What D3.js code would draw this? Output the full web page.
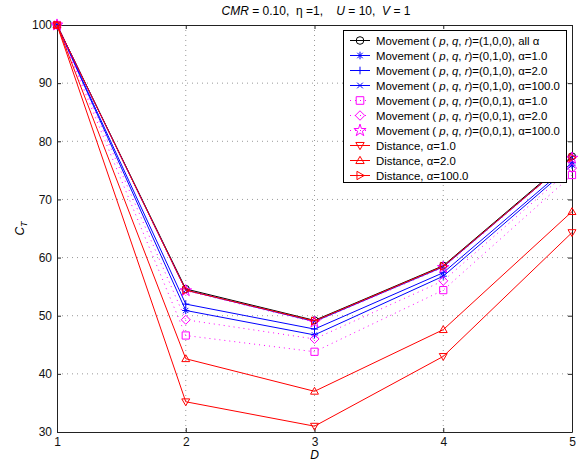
<!DOCTYPE html>
<html>
<head>
<meta charset="utf-8">
<script src="https://cdn.jsdelivr.net/npm/d3@7"></script>
<style>
  body { margin: 0; background: #fff; }
  text { font-family: "Liberation Sans", Arial, sans-serif; }
</style>
</head>
<body>
<div id="chart"></div>
<script>
// data
const dVals = [1, 2, 3, 4, 5];
const xTicks = [1, 2, 3, 4, 5];
const yTicks = [30, 40, 50, 60, 70, 80, 90, 100];

const movP = [100, 54.6, 49.2, 58.6, 77.4];
const movQ1 = [100, 50.9, 46.7, 56.8, 75.9];
const movQ2 = [100, 52.0, 47.7, 57.4, 76.3];
const movQ100 = [100, 54.4, 49.0, 58.4, 77.2];
const movR1 = [100, 46.6, 43.8, 54.4, 74.2];
const movR2 = [100, 49.3, 46.0, 56.0, 75.4];
const movR100 = [100, 54.3, 48.9, 58.3, 77.1];
const dist1 = [100, 35.2, 31.0, 43.0, 64.3];
const dist2 = [100, 42.6, 37.0, 47.6, 67.9];
const dist100 = [100, 54.4, 49.1, 58.5, 77.2];

const series = [
  {vals: movP, color: '#000', marker: 'circle', dash: null, pre: 'Movement', tuple: '(1,0,0), all α'},
  {vals: movQ1, color: '#0000ff', marker: 'asterisk', dash: null, pre: 'Movement', tuple: '(0,1,0), α=1.0'},
  {vals: movQ2, color: '#0000ff', marker: 'plus', dash: null, pre: 'Movement', tuple: '(0,1,0), α=2.0'},
  {vals: movQ100, color: '#0000ff', marker: 'cross', dash: null, pre: 'Movement', tuple: '(0,1,0), α=100.0'},
  {vals: movR1, color: '#ff00ff', marker: 'square', dash: '1,4', pre: 'Movement', tuple: '(0,0,1), α=1.0'},
  {vals: movR2, color: '#ff00ff', marker: 'diamond', dash: '1,4', pre: 'Movement', tuple: '(0,0,1), α=2.0'},
  {vals: movR100, color: '#ff00ff', marker: 'star', dash: '1,4', pre: 'Movement', tuple: '(0,0,1), α=100.0'},
  {vals: dist1, color: '#ff0000', marker: 'triDown', dash: null, pre: 'Distance, α=1.0'},
  {vals: dist2, color: '#ff0000', marker: 'triUp', dash: null, pre: 'Distance, α=2.0'},
  {vals: dist100, color: '#ff0000', marker: 'triRight', dash: null, pre: 'Distance, α=100.0'}
];

const w = 584, h = 462;
const padL = 57, padR = 572, padT = 25, padB = 432;

const xScale = d3.scaleLinear().domain([1, 5]).range([padL, padR]);
const yScale = d3.scaleLinear().domain([30, 100]).range([padB, padT]);

const svg = d3.select('#chart').append('svg')
  .attr('width', w).attr('height', h);

// marker paths
function markerPath(type, s) {
  switch (type) {
    case 'circle': return `M${-s},0A${s},${s} 0 1,0 ${s},0A${s},${s} 0 1,0 ${-s},0Z`;
    case 'plus': return `M${-s},0H${s}M0,${-s}V${s}`;
    case 'cross': { const a = s * 0.75; return `M${-a},${-a}L${a},${a}M${-a},${a}L${a},${-a}`; }
    case 'asterisk': { const a = s * 0.72; return `M${-s},0H${s}M0,${-s}V${s}M${-a},${-a}L${a},${a}M${-a},${a}L${a},${-a}`; }
    case 'square': return `M${-s},${-s}H${s}V${s}H${-s}Z`;
    case 'diamond': { const a = s * 1.25; return `M0,${-a}L${a},0L0,${a}L${-a},0Z`; }
    case 'star': return d3.symbol(d3.symbolStar, s * s * 3.2)();
    case 'triDown': return `M${-s * 1.1},${-s * 0.8}H${s * 1.1}L0,${s * 1.1}Z`;
    case 'triUp': return `M${-s * 1.1},${s * 0.8}H${s * 1.1}L0,${-s * 1.1}Z`;
    case 'triRight': return `M${-s * 0.8},${-s * 1.1}V${s * 1.1}L${s * 1.1},0Z`;
  }
}

// grid
svg.append('g').selectAll('line')
  .data(xTicks.slice(1, -1)).enter().append('line')
  .attr('x1', d => xScale(d)).attr('x2', d => xScale(d))
  .attr('y1', padT).attr('y2', padB)
  .attr('stroke', '#999').attr('stroke-width', 1).attr('stroke-dasharray', '1,4');
svg.append('g').selectAll('line')
  .data(yTicks.slice(1, -1)).enter().append('line')
  .attr('x1', padL).attr('x2', padR)
  .attr('y1', d => yScale(d)).attr('y2', d => yScale(d))
  .attr('stroke', '#999').attr('stroke-width', 1).attr('stroke-dasharray', '1,4');

// axes
const xAxis = d3.axisBottom(xScale).tickValues(xTicks).tickFormat(d3.format('d')).tickSizeInner(-4).tickSizeOuter(0).tickPadding(5);
const yAxis = d3.axisLeft(yScale).tickValues(yTicks).tickSizeInner(-4).tickSizeOuter(0).tickPadding(5);
const xTop = d3.axisTop(xScale).tickValues(xTicks).tickFormat('').tickSizeInner(-4).tickSizeOuter(0);
const yRight = d3.axisRight(yScale).tickValues(yTicks).tickFormat('').tickSizeInner(-4).tickSizeOuter(0);

[[xAxis, `translate(0,${padB})`], [yAxis, `translate(${padL},0)`],
 [xTop, `translate(0,${padT})`], [yRight, `translate(${padR},0)`]].forEach(a => {
  const g = svg.append('g').attr('transform', a[1]).call(a[0]);
  g.select('.domain').attr('stroke', '#222');
  g.selectAll('.tick line').attr('stroke', '#222');
  g.selectAll('.tick text').attr('font-size', 12).attr('fill', '#111')
    .style('font-family', '"Liberation Sans", Arial, sans-serif');
});

// lines and markers
const line = d3.line().x((d, i) => xScale(dVals[i])).y(d => yScale(d));
series.forEach(s => {
  svg.append('path')
    .datum(s.vals)
    .attr('d', line)
    .attr('fill', 'none')
    .attr('stroke', s.color)
    .attr('stroke-width', 1)
    .attr('stroke-dasharray', s.dash);
  svg.append('g').selectAll('path')
    .data(s.vals).enter().append('path')
    .attr('transform', (d, i) => `translate(${xScale(dVals[i])},${yScale(d)})`)
    .attr('d', markerPath(s.marker, 3.6))
    .attr('fill', 'none')
    .attr('stroke', s.color)
    .attr('stroke-width', 1);
});

// title
const title = svg.append('text')
  .attr('x', 316).attr('y', 15)
  .attr('text-anchor', 'middle')
  .attr('font-size', 12)
  .attr('xml:space', 'preserve');
title.append('tspan').attr('font-style', 'italic').text('CMR');
title.append('tspan').text(' = 0.10,  η =1,    ');
title.append('tspan').attr('font-style', 'italic').text('U');
title.append('tspan').text(' = 10,  ');
title.append('tspan').attr('font-style', 'italic').text('V');
title.append('tspan').text(' = 1');

// axis labels
svg.append('text')
  .attr('x', xScale(3)).attr('y', 459)
  .attr('text-anchor', 'middle')
  .attr('font-size', 12).attr('font-style', 'italic')
  .text('D');

const yl = svg.append('text')
  .attr('transform', `translate(24, ${yScale(65)}) rotate(-90)`)
  .attr('text-anchor', 'middle')
  .attr('font-size', 12).attr('font-style', 'italic');
yl.append('tspan').text('C');
yl.append('tspan').attr('font-size', 9).attr('dy', 3).text('T');

// legend
const lg = svg.append('g');
lg.append('rect')
  .attr('x', 343.5).attr('y', 30.5)
  .attr('width', 223).attr('height', 152)
  .attr('fill', '#fff').attr('stroke', '#000').attr('stroke-width', 1);

series.forEach((s, i) => {
  const y = 40.5 + i * 15;
  lg.append('line')
    .attr('x1', 350).attr('x2', 370).attr('y1', y).attr('y2', y)
    .attr('stroke', s.color).attr('stroke-width', 1)
    .attr('stroke-dasharray', s.dash);
  lg.append('path')
    .attr('transform', `translate(360,${y})`)
    .attr('d', markerPath(s.marker, 3.8))
    .attr('fill', 'none').attr('stroke', s.color);
  const t = lg.append('text')
    .attr('x', 376).attr('y', y + 4.5)
    .attr('font-size', 11.4)
    .attr('xml:space', 'preserve');
  if (s.tuple) {
    t.append('tspan').text(s.pre + ' ( ');
    t.append('tspan').attr('font-style', 'italic').text('p');
    t.append('tspan').text(', ');
    t.append('tspan').attr('font-style', 'italic').text('q');
    t.append('tspan').text(', ');
    t.append('tspan').attr('font-style', 'italic').text('r');
    t.append('tspan').text(')=' + s.tuple);
  } else {
    t.text(s.pre);
  }
});
</script>
</body>
</html>
